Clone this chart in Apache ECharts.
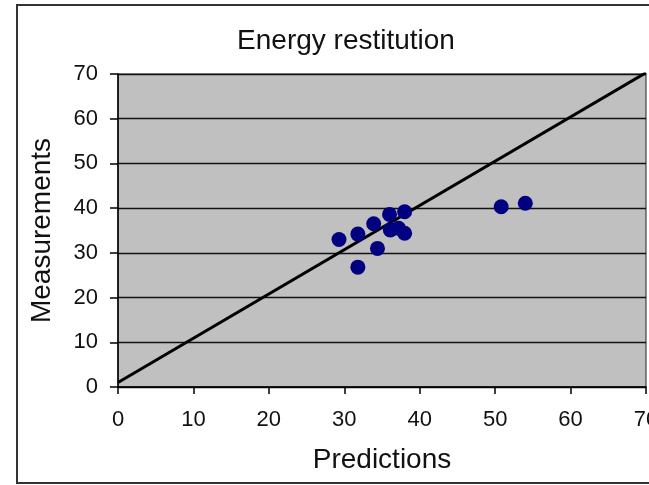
<!DOCTYPE html>
<html>
<head>
<meta charset="utf-8">
<script src="https://cdn.jsdelivr.net/npm/echarts@6/dist/echarts.min.js"></script>
<style>
html,body{margin:0;padding:0;background:#fff;}
#c{width:649px;height:485px;}
</style>
</head>
<body>
<div id="c"></div>
<script>
var titleText = "Energy restitution";
var xName = "Predictions";
var yName = "Measurements";
var predictions = [29.3, 31.8, 33.9, 36.0, 38.0, 36.1, 37.2, 38.0, 34.4, 31.8, 50.8, 54.0];
var measurements = [33.0, 34.2, 36.5, 38.6, 39.2, 35.1, 35.5, 34.4, 31.0, 26.8, 40.3, 41.1];
var lineX = [0, 70];
var lineY = [1, 70.3];

var pts = predictions.map(function(p, i){ return [p, measurements[i]]; });
var linePts = lineX.map(function(x, i){ return [x, lineY[i]]; });

var FF = 'Liberation Sans, Arial, sans-serif';
var chart = echarts.init(document.getElementById('c'));
chart.setOption({
  animation: false,
  backgroundColor: '#fff',
  textStyle: {fontFamily: FF},
  title: {
    text: titleText, left: 341, top: 22, textAlign: 'center',
    textStyle: {fontSize: 28, fontWeight: 'normal', color: '#111', fontFamily: FF}
  },
  graphic: [{
    type: 'rect', z: -1, silent: true,
    shape: {x: 17, y: 5, width: 700, height: 478},
    style: {fill: 'none', stroke: '#333', lineWidth: 2}
  }],
  grid: {
    left: 118, top: 74, right: 3, bottom: 98,
    outerBoundsMode: 'none', containLabel: false,
    show: true, backgroundColor: '#c0c0c0', borderColor: '#222', borderWidth: 1
  },
  xAxis: {
    type: 'value', min: 0, max: 70, interval: 10,
    name: xName, nameLocation: 'middle', nameGap: 59,
    nameTextStyle: {fontSize: 28, color: '#111'},
    axisLine: {show: true, onZero: false, lineStyle: {color: '#000', width: 1.5}},
    axisTick: {show: true, length: 7, lineStyle: {color: '#000', width: 1.5}},
    axisLabel: {fontSize: 22, color: '#111', margin: 22},
    splitLine: {show: false}
  },
  yAxis: {
    type: 'value', min: 0, max: 70, interval: 10,
    name: yName, nameLocation: 'middle', nameGap: 62,
    nameTextStyle: {fontSize: 28, color: '#111'},
    axisLine: {show: true, onZero: false, lineStyle: {color: '#000', width: 1.5}},
    axisTick: {show: true, length: 8, lineStyle: {color: '#000', width: 1.5}},
    axisLabel: {fontSize: 22, color: '#111', margin: 20},
    splitLine: {show: true, lineStyle: {color: '#111', width: 1.3}}
  },
  series: [{
    type: 'line', data: linePts, showSymbol: false, symbol: 'none',
    lineStyle: {color: '#000', width: 3}, z: 3, silent: true
  }, {
    type: 'scatter', data: pts, symbolSize: 15,
    itemStyle: {color: '#000080', opacity: 1}, z: 4
  }]
});
</script>
</body>
</html>
